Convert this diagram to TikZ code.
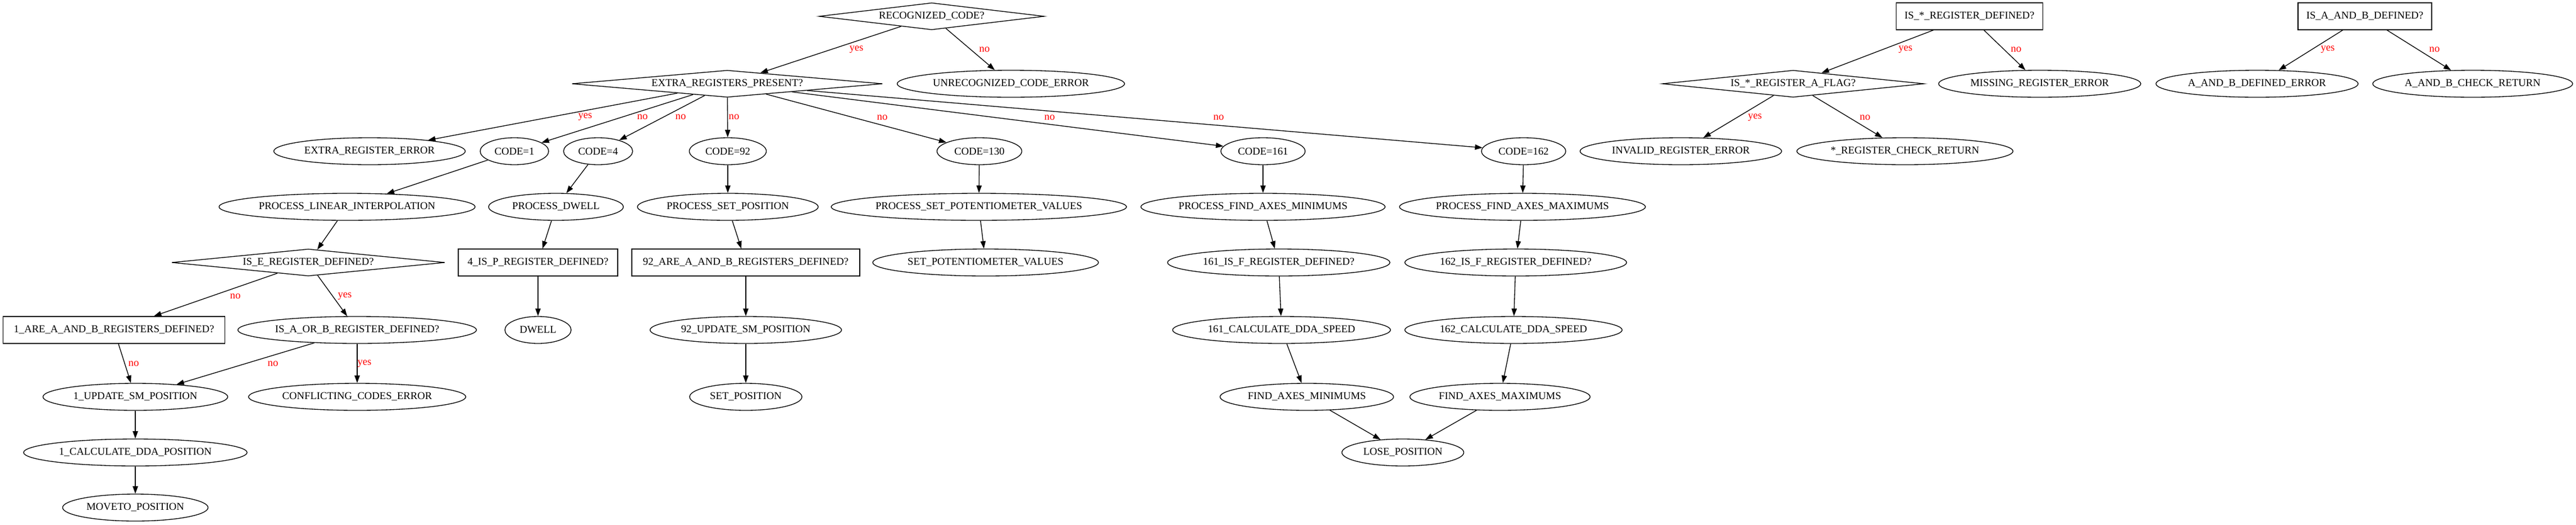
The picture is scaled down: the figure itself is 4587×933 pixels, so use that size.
\documentclass[tikz,border=0pt]{standalone}
\usepackage{fontspec}
\setmainfont{Liberation Serif}
\usepackage {tikz}
\usetikzlibrary{shapes.geometric}
\usetikzlibrary{arrows.meta}

\tikzset{
	wd/.style={minimum width=#1*0.75pt},
	base/.style={draw, line width=1pt, inner sep=0pt, minimum height=36pt, font=\fontsize{14}{16}\selectfont},
	oval/.style={base, ellipse},
	box/.style={base, rectangle},
	dia/.style={base, diamond, aspect=10},
	lbl/.style={text=red, inner sep=0pt, font=\fontsize{14}{16}\selectfont},
	arr/.style={-{Triangle[length=10pt,width=7pt]}, line width=1pt}
}

\begin{document}
\begin{tikzpicture}[x=0.75pt,y=-0.75pt]
	\useasboundingbox (0,0) rectangle (4587,933);
	\path (1659,29) node[dia, wd=401] (R) {RECOGNIZED\_CODE?}
	(3507,29) node[box, wd=261] (S) {IS\_*\_REGISTER\_DEFINED?}
	(4211,29) node[box, wd=238] (AB) {IS\_A\_AND\_B\_DEFINED?};
	\path (1295,149) node[dia, wd=553] (E) {EXTRA\_REGISTERS\_PRESENT?}
	(1800,149) node[oval, wd=405] (U) {UNRECOGNIZED\_CODE\_ERROR}
	(3193,149) node[dia, wd=466] (SF) {IS\_*\_REGISTER\_A\_FLAG?}
	(3632,149) node[oval, wd=360] (SM) {MISSING\_REGISTER\_ERROR}
	(4019,149) node[oval, wd=360] (ABE) {A\_AND\_B\_DEFINED\_ERROR}
	(4403,149) node[oval, wd=356] (ABC) {A\_AND\_B\_CHECK\_RETURN};
	\path (658,269) node[oval, wd=341] (EE) {EXTRA\_REGISTER\_ERROR}
	(916,269) node[oval, wd=122] (C1) {CODE=1}
	(1065,269) node[oval, wd=123] (C4) {CODE=4}
	(1296,269) node[oval, wd=137] (C92) {CODE=92}
	(1744,269) node[oval, wd=151] (C130) {CODE=130}
	(2249,269) node[oval, wd=150] (C161) {CODE=161}
	(2713,269) node[oval, wd=150] (C162) {CODE=162}
	(2993,269) node[oval, wd=359] (SI) {INVALID\_REGISTER\_ERROR}
	(3392,269) node[oval, wd=385] (SC) {*\_REGISTER\_CHECK\_RETURN};
	\path (618,368) node[oval, wd=456] (P1) {PROCESS\_LINEAR\_INTERPOLATION}
	(990,368) node[oval, wd=240] (P4) {PROCESS\_DWELL}
	(1296,368) node[oval, wd=322] (P92) {PROCESS\_SET\_POSITION}
	(1743,368) node[oval, wd=526] (P130) {PROCESS\_SET\_POTENTIOMETER\_VALUES}
	(2249,368) node[oval, wd=435] (P161) {PROCESS\_FIND\_AXES\_MINIMUMS}
	(2711,368) node[oval, wd=438] (P162) {PROCESS\_FIND\_AXES\_MAXIMUMS};
	\path (549,467) node[dia, wd=486] (Q1) {IS\_E\_REGISTER\_DEFINED?}
	(958,467) node[box, wd=284] (Q4) {4\_IS\_P\_REGISTER\_DEFINED?}
	(1328,467) node[box, wd=406] (Q92) {92\_ARE\_A\_AND\_B\_REGISTERS\_DEFINED?}
	(1755,467) node[oval, wd=402] (Q130) {SET\_POTENTIOMETER\_VALUES}
	(2277,467) node[oval, wd=396] (Q161) {161\_IS\_F\_REGISTER\_DEFINED?}
	(2699,467) node[oval, wd=395] (Q162) {162\_IS\_F\_REGISTER\_DEFINED?};
	\path (203,587) node[box, wd=395] (A1) {1\_ARE\_A\_AND\_B\_REGISTERS\_DEFINED?}
	(636,587) node[oval, wd=425] (B1) {IS\_A\_OR\_B\_REGISTER\_DEFINED?}
	(958,587) node[oval, wd=118] (D4) {DWELL}
	(1328,587) node[oval, wd=341] (U92) {92\_UPDATE\_SM\_POSITION}
	(2282,587) node[oval, wd=388] (S161) {161\_CALCULATE\_DDA\_SPEED}
	(2695,587) node[oval, wd=387] (S162) {162\_CALCULATE\_DDA\_SPEED};
	\path (241,706) node[oval, wd=329] (UP1) {1\_UPDATE\_SM\_POSITION}
	(636,706) node[oval, wd=387] (CF) {CONFLICTING\_CODES\_ERROR}
	(1328,706) node[oval, wd=200] (SP) {SET\_POSITION}
	(2327,706) node[oval, wd=309] (F161) {FIND\_AXES\_MINIMUMS}
	(2671,706) node[oval, wd=321] (F162) {FIND\_AXES\_MAXIMUMS};
	\path (241,805) node[oval, wd=398] (CA1) {1\_CALCULATE\_DDA\_POSITION}
	(2498,805) node[oval, wd=217] (L) {LOSE\_POSITION};
	\path (241,903) node[oval, wd=259] (M) {MOVETO\_POSITION};
	% connectors
	\draw[arr] (R) -- (E); \draw[arr] (R) -- (U);
	\draw[arr] (E) -- (EE); \draw[arr] (E) -- (C1); \draw[arr] (E) -- (C4);
	\draw[arr] (E) -- (C92); \draw[arr] (E) -- (C130); \draw[arr] (E) -- (C161); \draw[arr] (E) -- (C162);
	\draw[arr] (C1) -- (P1); \draw[arr] (P1) -- (Q1);
	\draw[arr] (Q1) -- (A1); \draw[arr] (Q1) -- (B1);
	\draw[arr] (A1) -- (UP1); \draw[arr] (B1) -- (UP1); \draw[arr] (B1) -- (CF);
	\draw[arr] (UP1) -- (CA1); \draw[arr] (CA1) -- (M);
	\draw[arr] (C4) -- (P4); \draw[arr] (P4) -- (Q4); \draw[arr] (Q4) -- (D4);
	\draw[arr] (C92) -- (P92); \draw[arr] (P92) -- (Q92); \draw[arr] (Q92) -- (U92); \draw[arr] (U92) -- (SP);
	\draw[arr] (C130) -- (P130); \draw[arr] (P130) -- (Q130);
	\draw[arr] (C161) -- (P161); \draw[arr] (P161) -- (Q161); \draw[arr] (Q161) -- (S161);
	\draw[arr] (S161) -- (F161); \draw[arr] (F161) -- (L);
	\draw[arr] (C162) -- (P162); \draw[arr] (P162) -- (Q162); \draw[arr] (Q162) -- (S162);
	\draw[arr] (S162) -- (F162); \draw[arr] (F162) -- (L);
	\draw[arr] (S) -- (SF); \draw[arr] (S) -- (SM);
	\draw[arr] (SF) -- (SI); \draw[arr] (SF) -- (SC);
	\draw[arr] (AB) -- (ABE); \draw[arr] (AB) -- (ABC);
	% edge labels
	\path (1525,88) node[lbl] {yes} (1753,88) node[lbl] {no}
	(1042,208) node[lbl] {yes} (1144,208) node[lbl] {no} (1212,208) node[lbl] {no}
	(1307,208) node[lbl] {no} (1571,209) node[lbl] {no} (1869,209) node[lbl] {no}
	(2170,209) node[lbl] {no}
	(419,527) node[lbl] {no} (614,527) node[lbl] {yes}
	(238,647) node[lbl] {no} (486,647) node[lbl] {no} (649,647) node[lbl] {yes}
	(3393,88) node[lbl] {yes} (3590,88) node[lbl] {no}
	(4145,88) node[lbl] {yes} (4335,88) node[lbl] {no}
	(3125,209) node[lbl] {yes} (3321,209) node[lbl] {no};
\end{tikzpicture}
\end{document}
